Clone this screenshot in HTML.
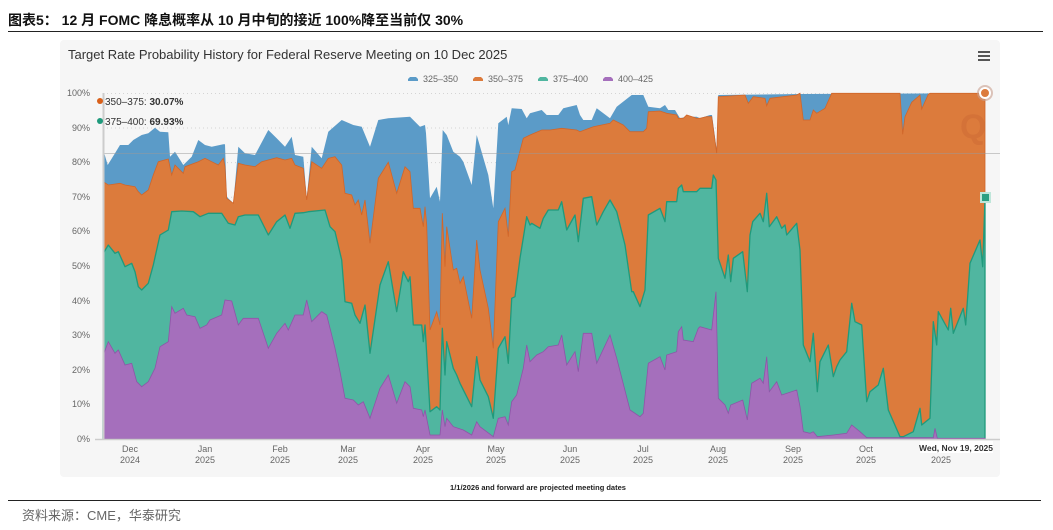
<!DOCTYPE html>
<html><head><meta charset="utf-8"><style>
body{margin:0;width:1053px;height:530px;background:#fff;overflow:hidden;font-family:"Liberation Sans","Noto Sans CJK SC",sans-serif;position:relative}
.t{position:absolute;white-space:nowrap}
</style></head><body>
<div class="t" style="left:8px;top:10px;font-size:14px;font-weight:bold;color:#111">图表5： 12 月 FOMC 降息概率从 10 月中旬的接近 100%降至当前仅 30%</div>
<div style="position:absolute;left:8px;top:31px;width:1035px;height:1px;background:#222"></div>
<div style="position:absolute;left:60px;top:40px;width:940px;height:437px;background:#f6f6f6;border-radius:4px"></div>
<svg style="position:absolute;left:0;top:0" width="1053" height="530" font-family="Liberation Sans, DejaVu Sans, sans-serif">
<text x="68" y="59" font-size="13" fill="#333">Target Rate Probability History for Federal Reserve Meeting on 10 Dec 2025</text>
<g fill="#555"><rect x="978" y="51" width="12" height="2"/><rect x="978" y="55" width="12" height="2"/><rect x="978" y="59" width="12" height="2"/></g>
<g font-size="9" fill="#666">
<path d="M408 81h10v-2l-2-2h-6l-2 2z" fill="#5b9bc8"/><text x="423" y="82">325–350</text>
<path d="M473 81h10v-2l-2-2h-6l-2 2z" fill="#dc7b3c"/><text x="488" y="82">350–375</text>
<path d="M538 81h10v-2l-2-2h-6l-2 2z" fill="#50b6a0"/><text x="553" y="82">375–400</text>
<path d="M603 81h10v-2l-2-2h-6l-2 2z" fill="#a56fbc"/><text x="618" y="82">400–425</text>
</g>
<g stroke="#d4d4d4" stroke-dasharray="1,3"><path d="M103 93.5H985M103 128H985M103 162.6H985M103 197.2H985M103 231.8H985M103 266.4H985M103 301H985M103 335.6H985M103 370.2H985M103 404.8H985"/></g>
<g font-size="9" fill="#666" text-anchor="end">
<text x="90" y="96">100%</text><text x="90" y="131">90%</text><text x="90" y="165">80%</text><text x="90" y="200">70%</text><text x="90" y="234">60%</text><text x="90" y="269">50%</text><text x="90" y="304">40%</text><text x="90" y="338">30%</text><text x="90" y="373">20%</text><text x="90" y="407">10%</text><text x="90" y="442">0%</text>
</g>
<polygon fill="#5b9bc8" points="103,439 103.3,150 107.7,165 115,153.3 120,145 128.3,145 133.3,140 141.7,135 148.3,133.3 155,127.7 160,131.7 168.3,132.3 170,156.7 175,151.7 183.3,165 191.7,156.7 198.3,140 205,145 211.7,146.7 223.3,144.3 225,144.3 226.7,196.7 233.3,203.3 238.3,146.7 245,153.3 255,155 268.3,130 276.7,138.3 285,146.7 291.7,136.7 295,155 303.3,156.7 306.7,198.3 311.7,146.7 321.7,158.3 328.3,131.7 341.7,120 353.3,125 361.7,126.7 370,146.7 378.3,120 388.3,118.3 410,116.7 420,126.7 425,125 426,133.3 430,198.3 436.7,186.7 440,201.7 442.7,130 446.7,135 453.3,151.7 460,156.7 463.3,161.7 471.7,185 476.7,135 488.3,175 493.3,208.3 498.3,123.3 506.7,116.7 508.3,125 511.7,108.3 521.7,109 526.7,118.3 530,113.3 541.7,110 546.7,115 558.3,115 563.3,108.3 576.7,105 580,115 583.3,120 591.7,120 596.7,108.3 610,118.3 616.7,106.7 631.7,95 643.3,95 648.3,106.7 660,108.3 665,105 668.3,110 675,110 680,118.3 686.7,116.7 696.7,116.7 700,118.3 710,115 712,115 716.7,150 718.3,95 800,94 985,93.3 985,439"/>
<polygon fill="#dc7b3c" stroke="#d0662a" stroke-width="0.8" points="103,439 103.3,181.7 108.3,185 120,183.3 125,185 135,186.7 138.3,191.7 141.7,195 148.3,190 153.3,175 158.3,161.7 168.3,159 171.7,175 175,165 183.3,173.3 185,166.7 198.3,161.7 205,158.3 211.7,161.7 218.3,165 223.3,158.3 225,166.7 226.7,198.3 233.3,203.3 238.3,163.3 245,165 255,166.7 261.7,161.7 276.7,157.7 285,160 291.7,158.3 295,165 303.3,168.3 306.7,200 311.7,161.7 321.7,168.3 328.3,158.3 335,156.7 341.7,165 345,193.3 351.7,195 355,205 358.3,200 361.7,215 365,200 370,243.3 378.3,178.3 388.3,162.3 396.7,193.3 405,166.7 410,171.7 413.3,208.3 420,208.3 423.3,226.7 425,206.7 426.7,225 430,330 436.7,311.7 440,325 442.3,213.3 445,266.7 446.7,226.7 453.3,270 456.7,268.3 460,283.3 463.3,276.7 471.7,318.3 476.7,240 480,270 488.3,308.3 493.3,348.3 498.3,221.7 505,208.3 508.3,236.7 511.7,171.7 515,170 523.3,138.3 530,135 541.7,130 550,130 561.7,128.3 576.7,130 580,131.7 593.3,126.7 610,123.3 613.3,120 623.3,125 630,131.7 643.3,131.7 646.7,128.3 648.3,111.7 660,111 666.7,113.3 676.7,115 678.3,118.3 683.3,118.3 686.7,115 696.7,118.3 700,118.3 706.7,116.7 711.7,116.7 716.7,153.3 718.3,96.7 745,95 748.3,103.3 753.3,96.7 765,98.3 766.7,105.7 770,98.3 796.7,95 800,93.3 803.3,120 810,120 813.3,110 816.7,113.3 825,108.3 831.7,93.3 900,93.3 902.7,134.3 905,116.7 911.7,102.3 920,95 921.7,109 928.3,94.3 930,93.3 985,93.3 985,439"/>
<polygon fill="#50b6a0" stroke="#1f9a7c" stroke-width="1.3" stroke-linejoin="round" points="103,439 103.3,253.3 108.3,245 115,253.3 118.3,251.7 125,266.7 131.7,263.3 135,271.7 138.3,286.7 141.7,290 148.3,283.3 153.3,265 160,235 168.3,230 171.7,211.7 181.7,211 193.3,211.7 200,216.7 208.3,213.3 221.7,213.3 228.3,223.3 235,225 238.3,216.7 245,215 258.3,215 263.3,225 268.3,235 276.7,221.7 285,215 290,228.3 295,213.3 303.3,212.7 308.3,211.7 325,210 330,226.7 335,231.7 341.7,260 345,301.7 351.7,303.3 355,315 360,323.3 365,305 370,353.3 380,285 388.3,261.7 396.7,311.7 403.3,271.7 408.3,281.7 410,276.7 413.3,325 421.7,325 423.3,341.7 425,325 430,411.7 436.7,406.7 440,410 442.3,328.3 445,375 446.7,341.7 453.3,368.3 456.7,375 460,383.3 471.7,406.7 476.7,356.7 480,380 488.3,396.7 493.3,418.3 498.3,348.3 505,336.7 508.3,363.3 511.7,298.3 515,296.7 520,258.3 526.7,216.7 530,225 531.7,223.3 540,228.3 543.3,218.3 548.3,210 558.3,210 561.7,201.7 566.7,230 575,215 578.3,241.7 583.3,198.3 591.7,196.7 596.7,225 603.3,211.7 610,200 616.7,211.7 625,245 631.7,291.7 633.3,291.7 640,306.7 645,290 648.3,215 660,208.3 665,221.7 666.7,201.7 676.7,201.7 678.3,188.3 681.7,185 683.3,191.7 696.7,191.7 700,188.3 711.7,188.3 713.3,175 716,180 718.3,258.3 725,278.3 728.3,255 730.7,281.7 733.3,258.3 742.7,251.7 747.3,291.7 750,235 752.7,221.7 760,213.3 763.3,221.7 766.7,193.3 769.3,226.7 776.7,216.7 781.7,228.3 785,225 786.7,235 796.7,223.3 800,250 803.3,345 810,361.7 813.3,333.3 817.3,391.7 820,361.7 828.3,345 833.3,376.7 836.7,366.7 840,360 846.7,351.7 851.7,303.3 855,321.7 861.7,325 866.7,401.7 870,391.7 878.3,385 883.3,368.3 888.3,410 900,436.7 903.3,436.7 913.3,431.7 920,408.3 921.7,425 930,418.3 933.3,321.7 936.7,345 938.3,311.7 948.3,330 950.7,308.3 953.3,333.3 963.3,308.3 965.7,325 970,263.3 980,240 982.7,266.7 985,198 985,439"/>
<polygon fill="#a56fbc" stroke="#8e55a8" stroke-width="0.8" points="103,439 103.3,355 108.3,341.7 115,353.3 118.3,350 125,365 131.7,363.3 136.7,381.7 141.7,386.7 148.3,381.7 155,368.3 160,346.7 168.3,341.7 171.7,306.7 175,313.3 183.3,308.3 186.7,315 195,316.7 200,328.3 206.7,325 210,320 221.7,315 225,300 231.7,301 238.3,325 243.3,318.3 258.3,318.3 268.3,348.3 276.7,333.3 285,323.3 288.3,330 295,315 303.3,315 306.7,300 311.7,321.7 321.7,311.7 326.7,315 335,348.3 340,371.7 345,398.3 353.3,400 358.3,405 363.3,401.7 370,418.3 380,388.3 388.3,375 396.7,403.3 405,381.7 410,386.7 413.3,408.3 421.7,410 423.3,416.7 425,410 430,435 440,435 442.3,410 445,426.7 446.7,418.3 453.3,426.7 463.3,430 471.7,435 476.7,421.7 480,426.7 493.3,436.7 498.3,418.3 505,416.7 508.3,425 511.7,401.7 516.7,395 523.3,368.3 526.7,345 530,361.7 536.7,355 543.3,351.7 548.3,346.7 558.3,345 561.7,335 566.7,365 575,351.7 578.3,371.7 583.3,333.3 591.7,333.3 596.7,363.3 610,335 616.7,358.3 630,410 640,416.7 643.3,413.3 648.3,363.3 660,356.7 665,370 666.7,355 676.7,351.7 678.3,331.7 681.7,326.7 683.3,340 693.3,341.7 698.3,328.3 700,326.7 711.7,330 716,291.7 718.3,398.3 725,405 728.3,413.3 730.7,405 742.7,400 747.3,420 751.7,383.3 760,378.3 763.3,383.3 766.7,356.7 769.3,391.7 776.7,381.7 781.7,395 796.7,390 800,406.7 803.3,431.7 810,433.3 813.3,431.7 817.3,436.7 833.3,435 846.7,433.3 851.7,425 860,431.7 866.7,437.7 900,437.7 933.3,437.7 935,428.3 937.3,438.3 985,438.3 985,439"/>
<line x1="103" y1="153.5" x2="1000" y2="153.5" stroke="#999" stroke-opacity="0.5"/>
<line x1="103.5" y1="93" x2="103.5" y2="439" stroke="#ccc" stroke-width="2"/>
<line x1="95" y1="439.5" x2="1000" y2="439.5" stroke="#ccc" stroke-width="1.5"/>
<text x="960" y="138" font-size="34" font-weight="bold" fill="#cc6a33" fill-opacity="0.5">Q</text>
<circle cx="985" cy="93" r="5" fill="#dc7b3c" stroke="#fff" stroke-width="2"/>
<circle cx="985" cy="93" r="7" fill="none" stroke="#c9a090" stroke-opacity="0.6" stroke-width="2"/>
<rect x="981" y="193" width="9" height="9" fill="#2a9f82" stroke="#bfe6da" stroke-width="2"/>
<g font-size="9" fill="#666" text-anchor="middle">
<text x="130" y="452">Dec</text><text x="130" y="463">2024</text>
<text x="205" y="452">Jan</text><text x="205" y="463">2025</text>
<text x="280" y="452">Feb</text><text x="280" y="463">2025</text>
<text x="348" y="452">Mar</text><text x="348" y="463">2025</text>
<text x="423" y="452">Apr</text><text x="423" y="463">2025</text>
<text x="496" y="452">May</text><text x="496" y="463">2025</text>
<text x="570" y="452">Jun</text><text x="570" y="463">2025</text>
<text x="643" y="452">Jul</text><text x="643" y="463">2025</text>
<text x="718" y="452">Aug</text><text x="718" y="463">2025</text>
<text x="793" y="452">Sep</text><text x="793" y="463">2025</text>
<text x="866" y="452">Oct</text><text x="866" y="463">2025</text>
<text x="941" y="463">2025</text>
</g>
<rect x="920" y="441" width="73" height="12" fill="#fff"/>
<text x="956" y="451" font-size="8.5" font-weight="bold" fill="#333" text-anchor="middle">Wed, Nov 19, 2025</text>
<g font-size="10">
<circle cx="100" cy="101" r="3" fill="#d9601a"/><text x="105" y="105" fill="#333">350–375: <tspan font-weight="bold">30.07%</tspan></text>
<circle cx="100" cy="121" r="3" fill="#1f9a7c"/><text x="105" y="125" fill="#333">375–400: <tspan font-weight="bold">69.93%</tspan></text>
</g>
<text x="538" y="490" font-size="7.5" font-weight="bold" fill="#222" text-anchor="middle">1/1/2026 and forward are projected meeting dates</text>
</svg>
<div style="position:absolute;left:8px;top:500px;width:1033px;height:1px;background:#222"></div>
<div class="t" style="left:22px;top:505px;font-size:13px;color:#666">资料来源：CME，华泰研究</div>
</body></html>
